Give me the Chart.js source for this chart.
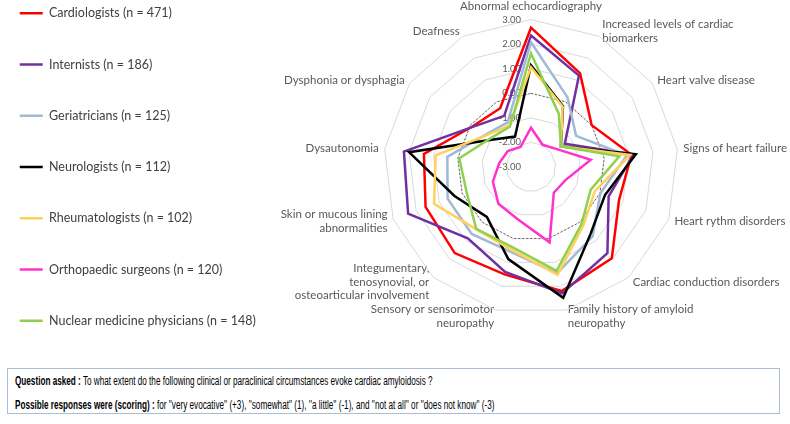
<!DOCTYPE html>
<html>
<head>
<meta charset="utf-8">
<script src="https://cdn.jsdelivr.net/npm/chart.js@4.4.0/dist/chart.umd.min.js"></script>
<style>
  html, body { margin: 0; padding: 0; background: #fff; }
  #wrap { position: relative; width: 790px; height: 424px; overflow: hidden; }
  #chartBox { position: absolute; left: -19px; top: -132px; width: 830px; height: 600px; }
  #note {
    position: absolute; left: 7px; top: 368px; width: 771px; height: 44px;
    border: 1.5px solid #a9bdd4; background: #fff;
    font-family: "Liberation Sans", Arial, sans-serif;
    font-size: 12px; color: #000;
  }
  #note p { margin: 0; position: absolute; left: 7px; white-space: nowrap;
            transform: scaleX(0.68); transform-origin: 0 50%; }
  #q1 { top: 5px; }
  #q2 { top: 29px; }
</style>
</head>
<body>
<div id="wrap">
  <div id="chartBox"><canvas id="radar"></canvas></div>
  <div id="note">
    <p id="q1"><b>Question asked :</b> To what extent do the following clinical or paraclinical circumstances evoke cardiac amyloidosis ?</p>
    <p id="q2"><b>Possible responses were (scoring) :</b> for ''very evocative'' (+3), ''somewhat'' (1), ''a little'' (-1), and ''not at all'' or ''does not know'' (-3)</p>
  </div>
</div>
<script>
const circumstances = [
  'Abnormal echocardiography',
  ['Increased levels of cardiac', 'biomarkers'],
  'Heart valve disease',
  'Signs of heart failure',
  'Heart rythm disorders',
  'Cardiac conduction disorders',
  ['Family history of amyloid', 'neuropathy'],
  ['Sensory or sensorimotor', 'neuropathy'],
  ['Integumentary,', 'tenosynovial, or', 'osteoarticular involvement'],
  ['Skin or mucous lining', 'abnormalities'],
  'Dysautonomia',
  'Dysphonia or dysphagia',
  'Deafness'
];

const groups = [
  'Cardiologists (n = 471)',
  'Internists (n = 186)',
  'Geriatricians (n = 125)',
  'Neurologists (n = 112)',
  'Rheumatologists (n = 102)',
  'Orthopaedic surgeons (n = 120)',
  'Nuclear medicine physicians (n = 148)'
];

const cardiologists = [2.67, 1.30, 0.00, 1.12, 0.83, 1.96, 2.20, 1.50, 1.68, 1.59, 1.39, -0.10, -0.30];
const internists    = [2.35, 1.20, -1.33, 1.20, 0.38, 1.69, 2.30, 1.40, 0.88, 2.35, 2.21, -0.12, -0.65];
const geriatricians = [2.08, 0.20, -0.77, 0.93, 0.02, 0.78, 1.45, 0.55, 0.64, 0.63, 0.43, -0.72, -0.95];
const neurologists  = [1.14, -0.20, -1.52, 1.30, 0.22, 0.65, 2.48, 0.86, -0.29, 0.33, 2.00, -1.05, -1.60];
const rheumatologists = [1.06, -0.23, -1.52, 1.07, -0.22, 0.20, 1.52, 0.45, 0.38, 1.22, 0.91, -0.75, -1.10];
const orthopaedists = [-1.40, -1.98, -1.72, -0.55, -1.50, -1.60, 0.16, -0.80, -1.00, -1.34, -1.70, -1.85, -2.08];
const nuclearMed    = [1.62, -0.56, -1.52, 0.62, -0.40, 0.10, 1.35, 0.34, 0.36, -0.19, -0.06, -0.97, -1.15];
const zeroLine      = [0, 0, 0, 0, 0, 0, 0, 0, 0, 0, 0, 0, 0];

const tickValues = [-3, -2, -1, 0, 1, 2, 3];

const colors = ['#ff0000', '#7030a0', '#9fb9d6', '#000000', '#ffd15c', '#ff33cc', '#8fd14f'];
const series = [cardiologists, internists, geriatricians, neurologists, rheumatologists, orthopaedists, nuclearMed];

// later series drawn on top, as in the spreadsheet original
const datasets = series.map((vals, i) => ({
  label: groups[i],
  data: vals,
  borderColor: colors[i],
  backgroundColor: colors[i],
  borderWidth: 2.5,
  fill: false,
  pointRadius: 0,
  pointHoverRadius: 0,
  order: series.length - i
}));

// dashed reference polygon at 0, at the back
datasets.push({
  label: 'zero',
  data: zeroLine,
  borderColor: '#404040',
  borderWidth: 0.8,
  borderDash: [2, 2],
  fill: false,
  pointRadius: 0,
  pointHoverRadius: 0,
  order: 99
});

// tick labels sit left of the vertical axis, under the lines, like the original
const tickLabelPlugin = {
  id: 'tickLabels',
  beforeDatasetsDraw(chart) {
    const scale = chart.scales.r;
    const ctx = chart.ctx;
    ctx.save();
    ctx.font = '9.5px Lato, "Open Sans", sans-serif';
    ctx.fillStyle = '#595959';
    ctx.textAlign = 'right';
    ctx.textBaseline = 'middle';
    tickValues.forEach(v => {
      const d = scale.getDistanceFromCenterForValue(v);
      ctx.fillText(v.toFixed(2), scale.xCenter - 10, scale.yCenter - d);
    });
    ctx.restore();
  }
};

// centre the side labels vertically on their spoke (Excel style)
const centerLabelsPlugin = {
  id: 'centerLabels',
  afterLayout(chart) {
    const scale = chart.scales.r;
    const items = scale._pointLabelItems;
    if (!items) return;
    items.forEach((it, i) => {
      if (i === 0) return;
      const h = it.bottom - it.top;
      const deg = (scale.getIndexAngle(i) * 180 / Math.PI + 360) % 360;
      const dy = (deg < 90 || deg > 270) ? h / 2 : -h / 2;
      it.y += dy;
      it.top += dy;
      it.bottom += dy;
    });
  }
};

// a little trailing room after the legend text so the radar sits where it did
const legendGap = '\u00a0'.repeat(4);

const ctx = document.getElementById('radar').getContext('2d');
const myChart = new Chart(ctx, {
  type: 'radar',
  data: {
    labels: circumstances,
    datasets: datasets
  },
  plugins: [tickLabelPlugin, centerLabelsPlugin],
  options: {
    responsive: true,
    maintainAspectRatio: false,
    animation: false,
    elements: { line: { tension: 0 } },
    layout: { padding: { top: 0, bottom: 2, right: 21, left: 0 } },
    plugins: {
      tooltip: { enabled: false },
      legend: {
        display: true,
        position: 'left',
        align: 'center',
        labels: {
          usePointStyle: true,
          pointStyle: 'line',
          pointStyleWidth: 23,
          padding: 38.75,
          color: '#404040',
          font: { family: 'Lato, "Open Sans", sans-serif', size: 12.5 },
          filter: item => item.text !== 'zero',
          sort: (a, b) => a.datasetIndex - b.datasetIndex,
          generateLabels: chart => Chart.defaults.plugins.legend.labels.generateLabels(chart)
            .map(item => Object.assign(item, { text: item.text === 'zero' ? item.text : item.text + legendGap }))
        }
      }
    },
    scales: {
      r: {
        min: -3,
        max: 3,
        ticks: { stepSize: 1, display: false },
        grid: { color: '#d9d9d9', lineWidth: 1 },
        angleLines: { display: false },
        pointLabels: {
          color: '#595959',
          font: { family: 'Lato, "Open Sans", sans-serif', size: 11.5 },
          padding: 6
        }
      }
    }
  }
});
</script>
</body>
</html>
